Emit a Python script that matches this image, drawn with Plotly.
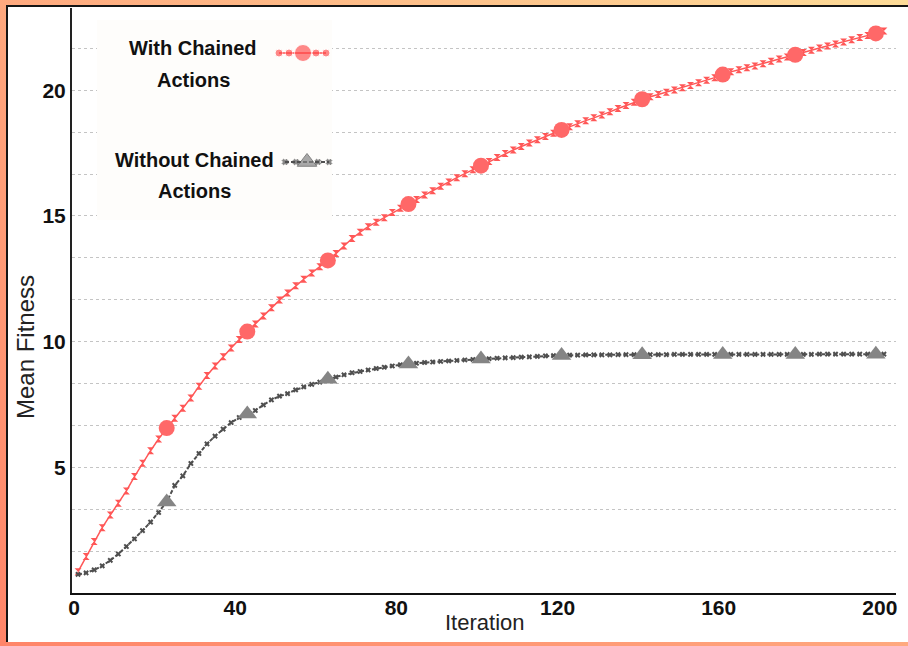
import base64
import plotly.graph_objects as go

# ---- data -------------------------------------------------------------
iterations = list(range(1, 202, 2))

with_chained = [
    0.85, 1.45, 2.05, 2.60, 3.10, 3.57, 4.06, 4.63, 5.16, 5.66,
    6.13, 6.56, 6.95, 7.35, 7.76, 8.22, 8.65, 9.03, 9.40, 9.75,
    10.08, 10.40, 10.70, 11.02, 11.35, 11.65, 11.93, 12.22, 12.48, 12.73,
    12.98, 13.23, 13.50, 13.80, 14.10, 14.35, 14.57, 14.75, 14.93, 15.14,
    15.30, 15.47, 15.65, 15.83, 16.00, 16.18, 16.35, 16.52, 16.68, 16.84,
    17.00, 17.16, 17.32, 17.48, 17.62, 17.76, 17.90, 18.03, 18.16, 18.29,
    18.42, 18.55, 18.67, 18.79, 18.90, 19.01, 19.14, 19.27, 19.39, 19.52,
    19.64, 19.74, 19.83, 19.92, 20.01, 20.10, 20.19, 20.30, 20.40, 20.50,
    20.62, 20.73, 20.81, 20.89, 20.96, 21.05, 21.15, 21.24, 21.32, 21.41,
    21.50, 21.59, 21.68, 21.76, 21.84, 21.92, 22.01, 22.10, 22.18, 22.26,
    22.36,
]

without_chained = [
    0.74, 0.80, 0.92, 1.08, 1.30, 1.55, 1.85, 2.15, 2.48, 2.82,
    3.20, 3.62, 4.28, 4.66, 5.15, 5.55, 5.93, 6.24, 6.52, 6.78,
    6.98, 7.12, 7.26, 7.48, 7.68, 7.83, 7.93, 8.08, 8.20, 8.30,
    8.39, 8.50, 8.59, 8.68, 8.76, 8.81, 8.87, 8.93, 8.98, 9.03,
    9.08, 9.11, 9.14, 9.17, 9.19, 9.21, 9.23, 9.25, 9.27, 9.29,
    9.31, 9.32, 9.34, 9.35, 9.36, 9.38, 9.39, 9.41, 9.43, 9.44,
    9.45, 9.46, 9.46, 9.47, 9.47, 9.47, 9.47, 9.48, 9.48, 9.48,
    9.48, 9.48, 9.48, 9.48, 9.49, 9.49, 9.49, 9.49, 9.49, 9.49,
    9.49, 9.49, 9.49, 9.49, 9.49, 9.49, 9.49, 9.49, 9.49, 9.49,
    9.49, 9.49, 9.50, 9.50, 9.50, 9.50, 9.50, 9.50, 9.50, 9.50,
    9.50,
]

# iterations carrying the large highlighted markers
highlight_iterations = [23, 43, 63, 83, 101, 121, 141, 161, 179, 199]

x_ticks = [0, 40, 80, 120, 160, 200]
y_ticks = [5, 10, 15, 20]

series_names = [("With Chained", "Actions"), ("Without Chained", "Actions")]
x_title = "Iteration"
y_title = "Mean Fitness"

# ---- layout geometry ----------------------------------------------------
W, H = 908, 646
PL, PR, PT, PB = 72, 896, 8, 593          # plot area in pixels
X0, X1 = -0.5, 204.0
Y0, Y1 = 0.0, 23.27

RED = "#ff5757"
RED_BIG = "#ff6868"
GREY_LINE = "#4f4f4f"
GREY_TRI = "#858585"
SANS = "Liberation Sans, Arial, sans-serif"


def px_x(px):
    return X0 + (px - PL) / (PR - PL) * (X1 - X0)


def px_y(py):
    return Y0 + (PB - py) / (PB - PT) * (Y1 - Y0)


def pick(values, its):
    lookup = dict(zip(iterations, values))
    return [lookup[i] for i in its]


fig = go.Figure()

# with chained actions: thin line with small markers, then large circles
fig.add_trace(go.Scatter(
    x=iterations, y=with_chained, mode="lines+markers",
    line=dict(color=RED, width=1.5),
    marker=dict(symbol="hourglass", size=7, color=RED),
    showlegend=False, hoverinfo="skip"))
fig.add_trace(go.Scatter(
    x=highlight_iterations, y=pick(with_chained, highlight_iterations),
    mode="markers", marker=dict(symbol="circle", size=16, color=RED_BIG),
    showlegend=False, hoverinfo="skip"))

# without chained actions: dashed grey line with small markers and triangles
fig.add_trace(go.Scatter(
    x=iterations, y=without_chained, mode="lines+markers",
    line=dict(color=GREY_LINE, width=2, dash="4px,2px"),
    marker=dict(symbol="x", size=5, color=GREY_LINE),
    showlegend=False, hoverinfo="skip"))
fig.add_trace(go.Scatter(
    x=highlight_iterations, y=pick(without_chained, highlight_iterations),
    mode="markers", marker=dict(symbol="triangle-up", size=17, color=GREY_TRI),
    showlegend=False, hoverinfo="skip"))

# ---- custom legend (symbol samples to the right of the labels) ----------
shapes = [dict(type="rect", xref="x", yref="y", layer="between",
               x0=px_x(97), x1=px_x(332), y0=px_y(220), y1=px_y(20),
               fillcolor="#fefdfb", line=dict(width=0))]

sample_red_x = [px_x(p) for p in (279, 289, 303, 316, 326)]
fig.add_trace(go.Scatter(
    x=sample_red_x, y=[px_y(53)] * 5, mode="lines+markers",
    line=dict(color=RED, width=2),
    marker=dict(symbol="circle", size=[8, 8, 17, 8, 8], color=RED),
    showlegend=False, hoverinfo="skip"))
sample_grey_x = [px_x(p) for p in (285, 296, 307, 318, 329)]
fig.add_trace(go.Scatter(
    x=sample_grey_x, y=[px_y(162)] * 5, mode="lines+markers",
    line=dict(color=GREY_LINE, width=2, dash="4px,2px"),
    marker=dict(symbol=["x", "x", "triangle-up", "x", "x"],
                size=[5, 5, 17, 5, 5],
                color=[GREY_LINE, GREY_LINE, GREY_TRI, GREY_LINE, GREY_LINE]),
    showlegend=False, hoverinfo="skip"))

legend_font = dict(family=SANS, size=20, color="#111111", weight="bold")
annotations = []
for (first, second), (cx, y_a, y_b) in zip(series_names,
                                           [(193, 48, 80), (194, 160, 191)]):
    annotations.append(dict(x=px_x(cx), y=px_y(y_a), xref="x", yref="y",
                            text=first, showarrow=False, font=legend_font))
    annotations.append(dict(x=px_x(cx), y=px_y(y_b), xref="x", yref="y",
                            text=second, showarrow=False, font=legend_font))

# axis titles
annotations.append(dict(x=(485 - PL) / (PR - PL), y=-(622 - PB) / (PB - PT),
                        xref="paper", yref="paper", text=x_title,
                        xanchor="center", yanchor="middle", showarrow=False,
                        font=dict(family=SANS, size=22, color="#222222")))
annotations.append(dict(x=-(PL - 26) / (PR - PL), y=(PB - 347) / (PB - PT),
                        xref="paper", yref="paper", text=y_title,
                        xanchor="center", yanchor="middle",
                        textangle=-90, showarrow=False,
                        font=dict(family=SANS, size=24, color="#222222")))

# ---- framed gradient background ----------------------------------------
svg = f"""<svg xmlns='http://www.w3.org/2000/svg' width='{W}' height='{H}' viewBox='0 0 {W} {H}' preserveAspectRatio='none'>
<defs><linearGradient id='g' x1='0' y1='1' x2='1' y2='0'>
<stop offset='0' stop-color='#ff8569'/>
<stop offset='0.45' stop-color='#ffa47c'/>
<stop offset='1' stop-color='#fddc98'/>
</linearGradient></defs>
<rect x='0' y='0' width='{W}' height='{H}' fill='url(#g)'/>
<rect x='7' y='6' width='{W - 7}' height='636' fill='#ffffff'/>
<line x1='6' y1='6' x2='{W}' y2='6' stroke='#151515' stroke-width='2'/>
<line x1='7' y1='5' x2='7' y2='642' stroke='#151515' stroke-width='2'/>
</svg>"""
bg_uri = "data:image/svg+xml;base64," + base64.b64encode(svg.encode()).decode()

plot_w, plot_h = PR - PL, PB - PT
fig.add_layout_image(dict(
    source=bg_uri, xref="paper", yref="paper",
    x=-PL / plot_w, y=PB / plot_h,
    sizex=W / plot_w, sizey=H / plot_h,
    xanchor="left", yanchor="top", sizing="stretch", layer="below"))

grid_vals = [k * 5 / 3 for k in range(1, 14)]
tick_font = dict(family=SANS, size=21, color="#111111", weight="bold")

fig.update_layout(
    width=W, height=H,
    margin=dict(l=PL, r=W - PR, t=PT, b=H - PB, autoexpand=False),
    paper_bgcolor="#ff9a74", plot_bgcolor="rgba(0,0,0,0)",
    shapes=shapes, annotations=annotations,
    xaxis=dict(
        range=[X0, X1], tickvals=x_ticks, ticktext=[str(v) for v in x_ticks],
        showgrid=False, zeroline=False, ticks="", ticklabelstandoff=-5,
        showline=True, linecolor="#111111", linewidth=2,
        tickfont=tick_font,
    ),
    yaxis=dict(
        range=[Y0, Y1], tickvals=y_ticks, ticktext=[str(v) for v in y_ticks],
        showgrid=True, gridcolor="#c4c4c4", gridwidth=1, griddash="dot",
        minor=dict(tickvals=grid_vals, showgrid=True, gridcolor="#c4c4c4",
                   gridwidth=1, griddash="dot", ticks=""),
        zeroline=False, ticks="",
        showline=True, linecolor="#222222", linewidth=2,
        tickfont=tick_font,
    ),
)

fig.write_html("out.html")
